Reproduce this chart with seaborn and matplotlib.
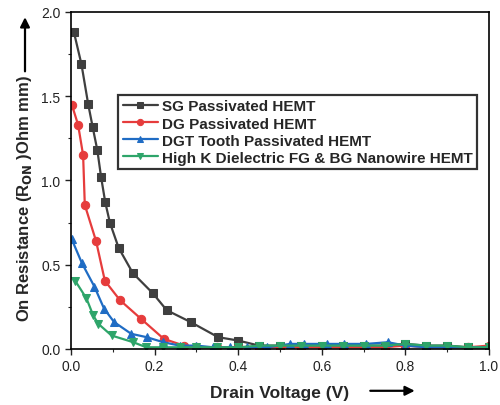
import matplotlib
matplotlib.use("Agg")
import matplotlib.pyplot as plt
import seaborn as sns
import numpy as np
import pandas as pd

sns.set_style("ticks")
plt.rcParams['font.family'] = ['Liberation Sans', 'DejaVu Sans']

labels = ["SG Passivated HEMT", "DG Passivated HEMT", "DGT Tooth Passivated HEMT",
          "High K Dielectric FG & BG Nanowire HEMT"]
colors = ["#3f3f3f", "#e63c3c", "#1f6cc4", "#2ea56a"]
markers = ["s", "o", "^", "v"]

sg_x = [0.007, 0.025, 0.041, 0.052, 0.063, 0.072, 0.082, 0.093, 0.114, 0.148, 0.196, 0.229,
        0.286, 0.352, 0.40, 0.45, 0.50, 0.55, 0.60, 0.65, 0.70, 0.75, 0.80, 0.85, 0.90, 0.95, 1.0]
sg_y = [1.88, 1.69, 1.455, 1.315, 1.18, 1.02, 0.87, 0.75, 0.60, 0.45, 0.33, 0.23,
        0.16, 0.07, 0.05, 0.02, 0.02, 0.02, 0.02, 0.02, 0.02, 0.02, 0.03, 0.02, 0.02, 0.01, 0.01]

dg_x = [0.002, 0.017, 0.029, 0.033, 0.06, 0.081, 0.117, 0.167, 0.222, 0.27, 0.30, 0.35,
        0.40, 0.45, 0.50, 0.55, 0.60, 0.65, 0.70, 0.75, 0.80, 0.85, 0.90, 0.95, 1.0]
dg_y = [1.45, 1.33, 1.15, 0.855, 0.64, 0.405, 0.29, 0.18, 0.06, 0.02, 0.01, 0.01,
        0.01, 0.01, 0.01, 0.01, 0.01, 0.01, 0.01, 0.01, 0.02, 0.01, 0.01, 0.01, 0.02]

dgt_x = [0.002, 0.026, 0.056, 0.079, 0.103, 0.144, 0.181, 0.221, 0.26, 0.30, 0.34, 0.38,
         0.42, 0.47, 0.524, 0.558, 0.612, 0.653, 0.706, 0.758, 0.80, 0.85, 0.90, 0.95, 1.0]
dgt_y = [0.65, 0.51, 0.37, 0.24, 0.16, 0.09, 0.07, 0.04, 0.02, 0.02, 0.01, 0.01,
         0.01, 0.01, 0.03, 0.03, 0.03, 0.03, 0.03, 0.04, 0.02, 0.01, 0.01, 0.01, 0.01]

hk_x = [0.01, 0.037, 0.053, 0.065, 0.097, 0.149, 0.18, 0.22, 0.26, 0.30, 0.35, 0.40,
        0.45, 0.50, 0.55, 0.60, 0.65, 0.70, 0.75, 0.80, 0.85, 0.90, 0.95, 1.0]
hk_y = [0.405, 0.30, 0.20, 0.15, 0.08, 0.04, 0.01, 0.01, 0.01, 0.01, 0.01, 0.01,
        0.02, 0.02, 0.02, 0.02, 0.02, 0.02, 0.02, 0.03, 0.02, 0.02, 0.01, 0.01]

series = [(sg_x, sg_y), (dg_x, dg_y), (dgt_x, dgt_y), (hk_x, hk_y)]

fig = plt.figure(figsize=(5.0, 4.06), dpi=100)
ax = fig.add_axes([0.142, 0.138, 0.836, 0.830])

for (xs, ys), lab, c, m in zip(series, labels, colors, markers):
    df = pd.DataFrame({"x": xs, "y": ys})
    sns.lineplot(data=df, x="x", y="y", ax=ax, color=c, marker=m, markersize=6,
                 markeredgecolor=c, linewidth=1.6, label=lab, sort=False)

ax.set_xlim(0, 1.0)
ax.set_ylim(0, 2.0)
ax.set_xticks([0, 0.2, 0.4, 0.6, 0.8, 1.0])
ax.set_xticklabels(["0.0", "0.2", "0.4", "0.6", "0.8", "1.0"])
ax.set_yticks([0, 0.5, 1.0, 1.5, 2.0])
ax.set_yticklabels(["0.0", "0.5", "1.0", "1.5", "2.0"])
ax.set_xticks([0.1, 0.3, 0.5, 0.7, 0.9], minor=True)
ax.set_yticks([0.25, 0.75, 1.25, 1.75], minor=True)
ax.tick_params(axis="both", which="major", direction="out", length=4, width=1,
               labelsize=10, colors="#222222")
ax.tick_params(axis="both", which="minor", direction="out", length=2.5, width=0.8)
for s in ax.spines.values():
    s.set_visible(True)
    s.set_linewidth(1.2)
    s.set_color("black")
ax.set_xlabel("")
ax.set_ylabel("")

leg = ax.legend(loc="upper left", bbox_to_anchor=(0.113, 0.754), borderaxespad=0,
                frameon=True, fancybox=False, edgecolor="black",
                prop={"weight": "bold", "size": 11}, handlelength=2.3,
                handletextpad=0.25, labelspacing=0.2, borderpad=0.3, markerscale=0.75)
leg.get_frame().set_linewidth(1.6)

fig.text(0.05, 0.51, "On Resistance (R$_{\\mathbf{ON}}$ )Ohm mm)", rotation=90,
         ha="center", va="center", fontsize=12, fontweight="bold")
ax.annotate("", xy=(0.05, 0.962), xycoords="figure fraction",
            xytext=(0.05, 0.815), textcoords="figure fraction",
            arrowprops=dict(arrowstyle="-|>", color="black", lw=1.6, mutation_scale=14))
fig.text(0.56, 0.032, "Drain Voltage (V)", ha="center", va="center",
         fontsize=12.5, fontweight="bold")
ax.annotate("", xy=(0.835, 0.035), xycoords="figure fraction",
            xytext=(0.735, 0.035), textcoords="figure fraction",
            arrowprops=dict(arrowstyle="-|>", color="black", lw=1.6, mutation_scale=14))

fig.savefig("out.png", dpi=100)
